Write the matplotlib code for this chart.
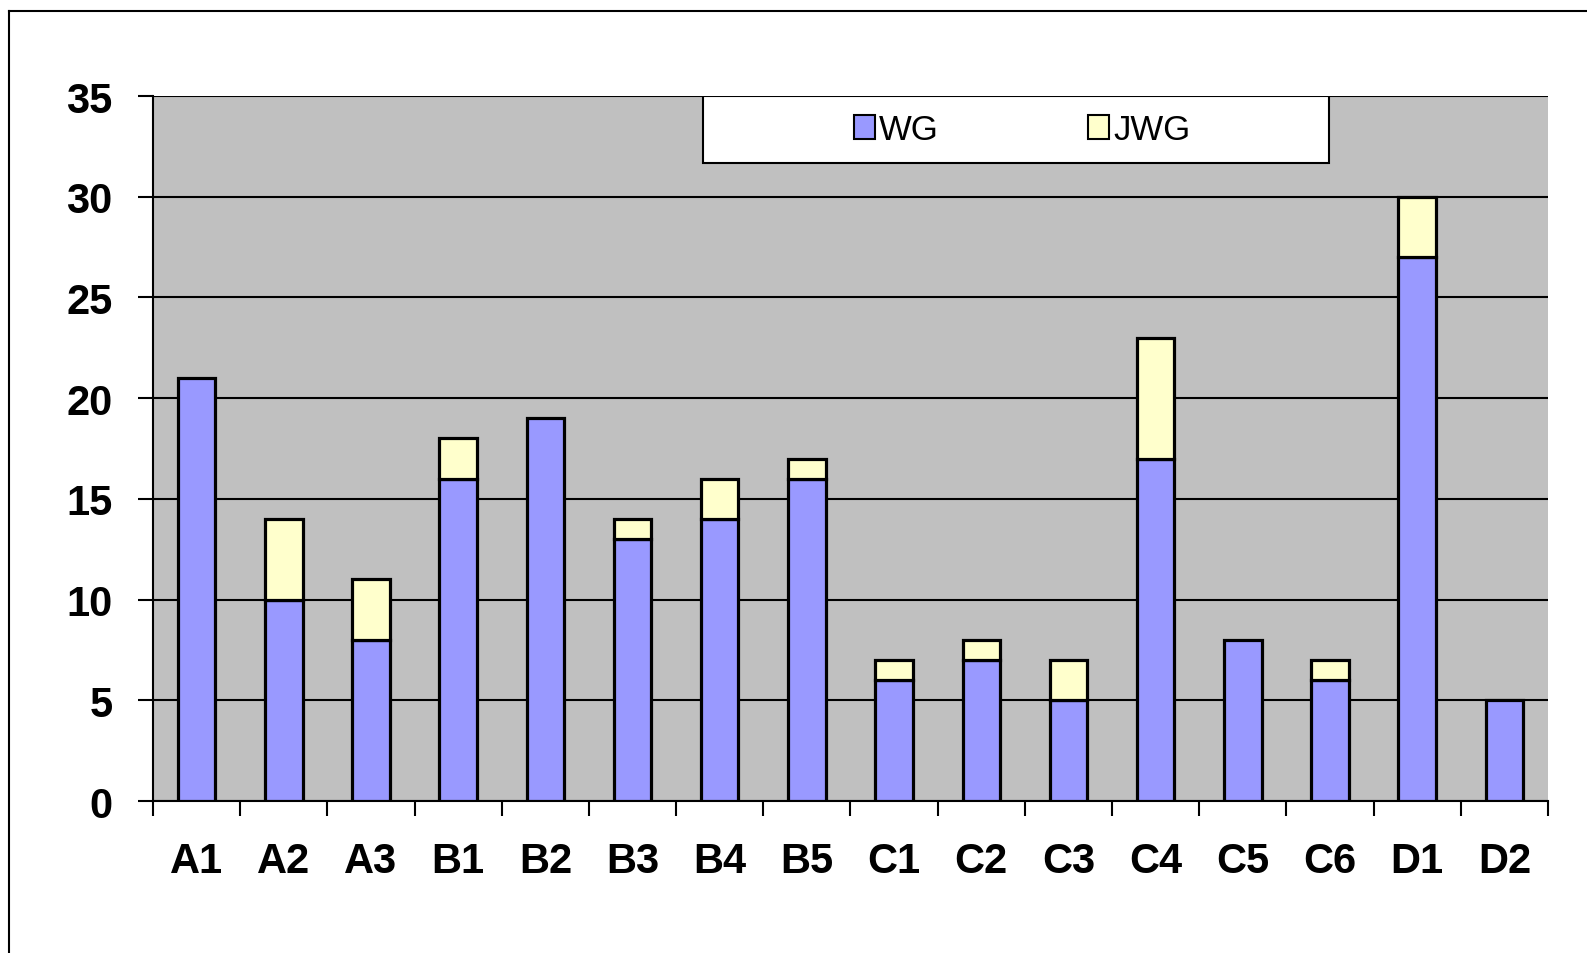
import numpy as np
import matplotlib.pyplot as plt
from matplotlib.patches import Patch, Rectangle
from matplotlib.lines import Line2D

plt.rcParams['font.family'] = ['Liberation Sans', 'DejaVu Sans']

# data
groups = ["A1", "A2", "A3", "B1", "B2", "B3", "B4", "B5",
          "C1", "C2", "C3", "C4", "C5", "C6", "D1", "D2"]
wg = [21, 10, 8, 16, 19, 13, 14, 16, 6, 7, 5, 17, 8, 6, 27, 5]
jwg = [0, 4, 3, 2, 0, 1, 2, 1, 1, 1, 2, 6, 0, 1, 3, 0]

wg_color = "#9999FF"
jwg_color = "#FFFFCC"

fig = plt.figure(figsize=(15.87, 9.54), dpi=100)
ax = fig.add_axes([0.0964, 0.1593, 0.879, 0.739])
ax.set_facecolor("#C0C0C0")

x = np.arange(len(groups))
w = 0.43
ax.bar(x, wg, w, color=wg_color, edgecolor="black", linewidth=2.3, zorder=3)
# only draw the top part where there is one
jwg_arr = np.array(jwg)
mask = jwg_arr > 0
ax.bar(x[mask], jwg_arr[mask], w, bottom=np.array(wg)[mask], color=jwg_color,
       edgecolor="black", linewidth=2.3, zorder=3)

ax.set_xlim(-0.5, len(groups) - 0.5)
ax.set_ylim(0, 35)
ax.set_yticks(range(0, 36, 5))
ax.yaxis.grid(True, color="black", linewidth=1.5, zorder=1)
ax.set_axisbelow(True)

ax.set_xticks(x)
ax.set_xticklabels(groups)
ax.set_xticks(np.arange(-0.5, len(groups)), minor=True)
ax.tick_params(axis="x", which="major", length=0, pad=29)
ax.tick_params(axis="x", which="minor", length=11, width=1.5, direction="out")
ax.tick_params(axis="y", length=11, width=1.5, direction="out", pad=18)
for lab in ax.get_xticklabels() + ax.get_yticklabels():
    lab.set_fontsize(30)
    lab.set_fontweight("bold")

for s in ["top", "right"]:
    ax.spines[s].set_visible(False)
ax.spines["left"].set_linewidth(1.5)
ax.spines["bottom"].set_linewidth(1.5)

# legend box
box = Rectangle((0.394, 0.905), 0.449, 0.095, transform=ax.transAxes,
                facecolor="white", edgecolor="black", linewidth=1.5, zorder=5)
ax.add_patch(box)
handles = [Patch(facecolor=wg_color, edgecolor="black", linewidth=1.5),
           Patch(facecolor=jwg_color, edgecolor="black", linewidth=1.5)]
leg = ax.legend(handles, ["WG", "JWG"], ncol=2, frameon=False, fontsize=25,
                loc="center", bbox_to_anchor=(0.623, 0.952),
                handlelength=0.6, handleheight=0.7, handletextpad=0.12,
                columnspacing=4.3)
leg.set_zorder(6)

# outer chart border (top and left visible)
fig.add_artist(Line2D([9 / 1587, 1], [1 - 12 / 954, 1 - 12 / 954],
                      transform=fig.transFigure, color="black", linewidth=1.5))
fig.add_artist(Line2D([9 / 1587, 9 / 1587], [0, 1 - 12 / 954],
                      transform=fig.transFigure, color="black", linewidth=1.5))

fig.savefig("out.png", dpi=100)
